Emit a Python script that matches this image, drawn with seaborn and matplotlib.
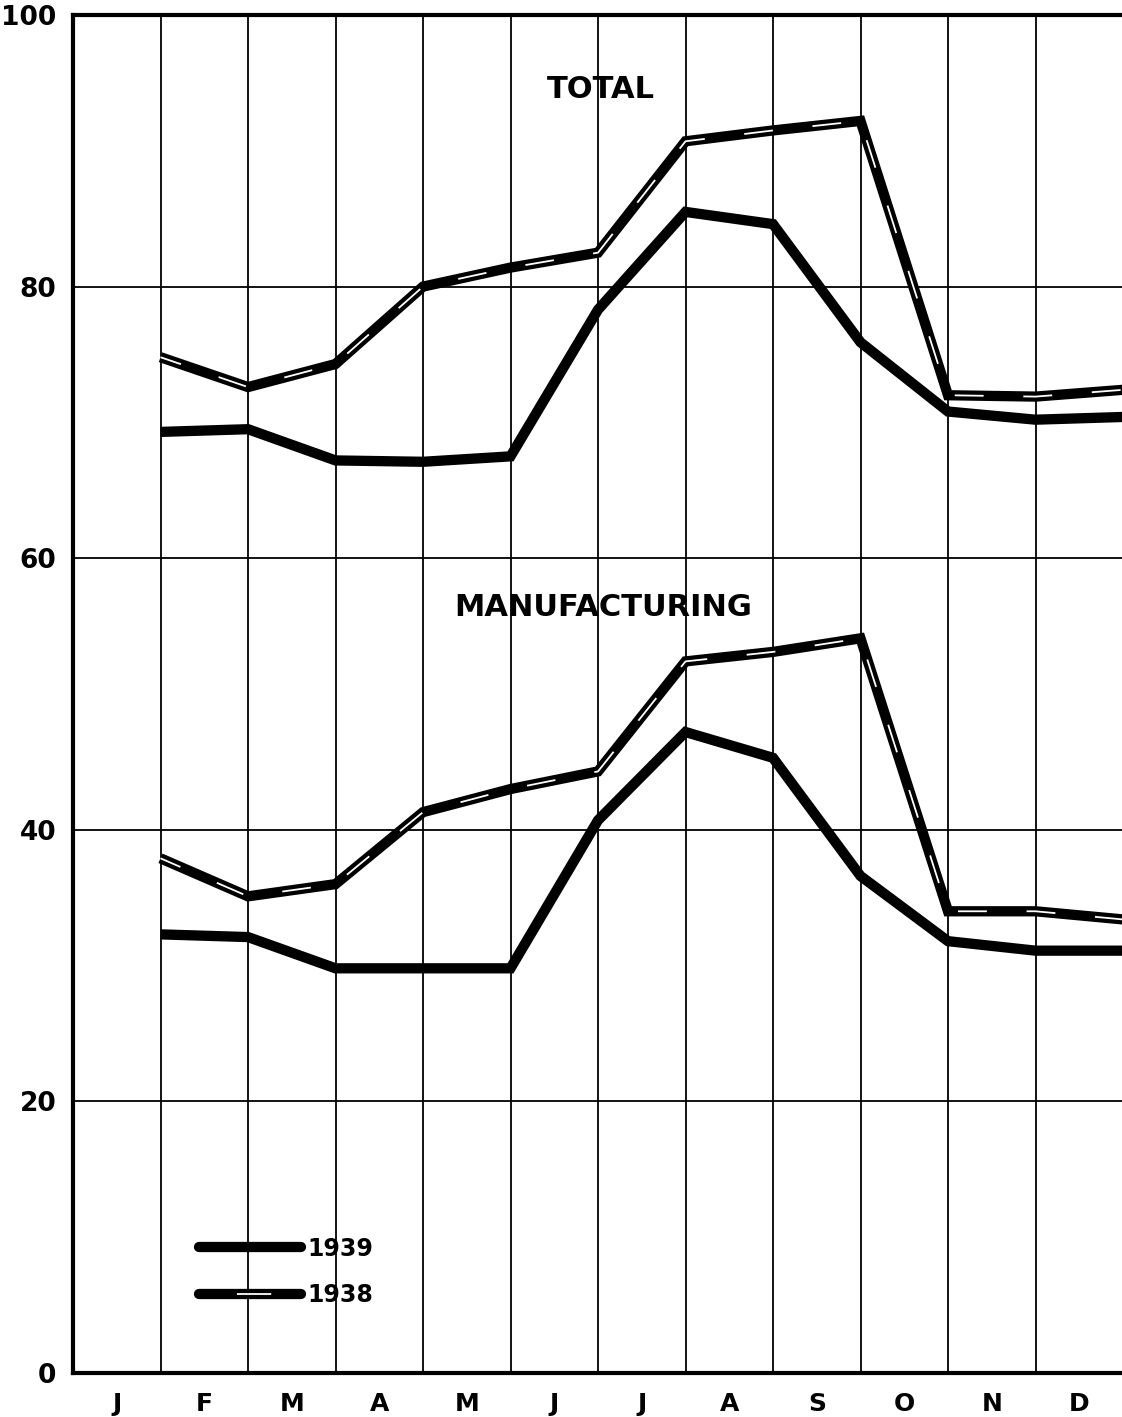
"""Seasonal index chart, total vs manufacturing, 1938 and 1939."""

import matplotlib

matplotlib.use("Agg")
import matplotlib.pyplot as plt
import numpy as np
import pandas as pd
import seaborn as sns
from matplotlib.legend_handler import HandlerTuple
from matplotlib.lines import Line2D

MONTHS = ["J", "F", "M", "A", "M", "J", "J", "A", "S", "O", "N", "D"]
# points sit on the month-end boundaries (1..12)
POINT_POS = np.arange(1, 13)

TOTAL_1938 = [74.8, 72.6, 74.3, 80.0, 81.4, 82.5, 90.7, 91.5, 92.2, 72.0, 71.9, 72.4]
TOTAL_1939 = [69.3, 69.5, 67.2, 67.1, 67.5, 78.3, 85.5, 84.6, 75.9, 70.8, 70.2, 70.4]
MFG_1938 = [37.9, 35.1, 36.0, 41.3, 43.0, 44.3, 52.4, 53.1, 54.1, 34.0, 34.0, 33.4]
MFG_1939 = [32.3, 32.1, 29.8, 29.8, 29.8, 40.7, 47.2, 45.3, 36.6, 31.8, 31.1, 31.1]

Y_TICKS = [0, 20, 40, 60, 80, 100]

df = pd.concat(
    [
        pd.DataFrame({"pos": POINT_POS, "value": TOTAL_1938, "series": "total", "year": "1938"}),
        pd.DataFrame({"pos": POINT_POS, "value": TOTAL_1939, "series": "total", "year": "1939"}),
        pd.DataFrame({"pos": POINT_POS, "value": MFG_1938, "series": "mfg", "year": "1938"}),
        pd.DataFrame({"pos": POINT_POS, "value": MFG_1939, "series": "mfg", "year": "1939"}),
    ],
    ignore_index=True,
)

sns.set_style("white")
plt.rcParams["font.family"] = ["DejaVu Sans"]
plt.rcParams["text.color"] = "black"
plt.rcParams["xtick.color"] = "black"
plt.rcParams["ytick.color"] = "black"

fig = plt.figure(figsize=(11.22, 14.17), dpi=100)
ax = fig.add_axes([73 / 1122, 1 - 1373 / 1417, 1050 / 1122, 1358 / 1417])

THICK = 7.4
WHITE_LW = 1.3
WHITE_DASH = (4, (16, 22))
for (series, year), grp in df.groupby(["series", "year"]):
    sns.lineplot(data=grp, x="pos", y="value", color="black", linewidth=THICK,
                 solid_joinstyle="miter", solid_capstyle="butt", ax=ax, legend=False)
    if year == "1938":
        sns.lineplot(data=grp, x="pos", y="value", color="white", linewidth=WHITE_LW,
                     linestyle=WHITE_DASH, ax=ax, legend=False)

ax.set_xlim(0, 12)
ax.set_ylim(0, 100)

# grid lines on month boundaries, labels centred in each month
ax.set_xticks(np.arange(0, 13))
ax.set_xticklabels([])
ax.set_xticks(np.arange(12) + 0.5, minor=True)
ax.set_xticklabels(MONTHS, minor=True, fontsize=18, fontweight="bold")
ax.tick_params(axis="x", which="both", length=0, pad=14)
ax.set_yticks(Y_TICKS)
ax.set_yticklabels([str(v) for v in Y_TICKS], fontsize=19, fontweight="bold")
ax.tick_params(axis="y", length=0, pad=12)
ax.grid(True, which="major", color="black", linewidth=1.3)
ax.set_xlabel("")
ax.set_ylabel("")

for side in ["left", "bottom", "top"]:
    ax.spines[side].set_color("black")
    ax.spines[side].set_linewidth(3)
ax.spines["right"].set_visible(False)

ax.text(6.03, 94.5, "TOTAL", ha="center", va="center", fontsize=22, fontweight="bold")
ax.text(6.06, 56.4, "MANUFACTURING", ha="center", va="center", fontsize=22, fontweight="bold")

# legend: 1938 handle shows a single white dash in the middle
h1939 = Line2D([], [], color="black", linewidth=THICK, solid_capstyle="round")
h1938a = Line2D([], [], color="black", linewidth=THICK, solid_capstyle="round")
h1938b = Line2D([], [], color="white", linewidth=WHITE_LW, linestyle=(43, (19, 45)))
ax.legend(
    [h1939, (h1938a, h1938b)],
    ["1939", "1938"],
    handler_map={tuple: HandlerTuple(ndivide=1, pad=0)},
    loc="lower left",
    bbox_to_anchor=(0.1, 0.033),
    frameon=False,
    prop={"size": 17, "weight": "bold"},
    handlelength=4.3,
    handletextpad=0.3,
    labelspacing=0.95,
)

fig.savefig("out.png", dpi=100)
